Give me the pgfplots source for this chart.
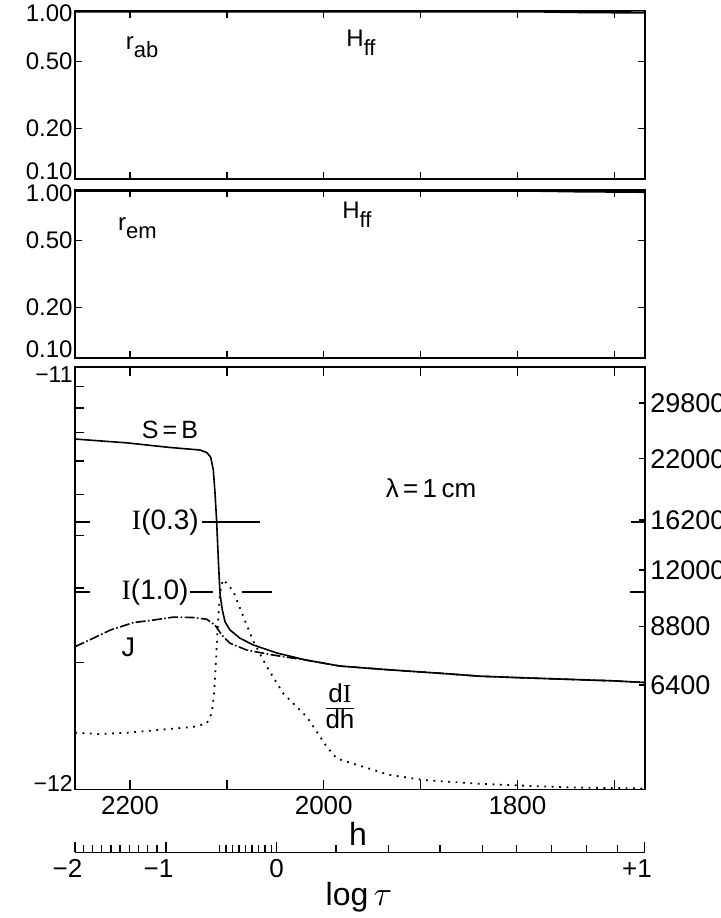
\documentclass[border=0pt]{standalone}
\usepackage{pgfplots}
\pgfplotsset{compat=1.18}
\usepackage{fontspec}
\setmainfont{Liberation Sans}
\newfontfamily\serifI{Liberation Serif}
\newcommand{\fs}[1]{\fontsize{#1}{#1}\selectfont}
\newcommand{\up}[2]{\raisebox{#1}[\height][\depth]{#2}}
\begin{document}
\begin{tikzpicture}[x=1pt,y=1pt]
\useasboundingbox (0,0) rectangle (360,459);
\pgfplotsset{
  every axis/.append style={
    scale only axis, width=285pt, anchor=south west,
    xmin=1668.3, xmax=2256.8, x dir=reverse,
    axis line style={-, line width=0.8pt},
    every tick/.style={line width=0.7pt, black},
    tick align=inside,
    major tick length=3.5pt,
    tick label style={font=\fs{12.5}},
  },
}
% ---------------- top panel ----------------
\begin{axis}[at={(37.5pt,369.5pt)}, height=84.15pt,
  ymode=log, ymin=0.1, ymax=1,
  xtick={1700,1800,1900,2000,2100,2200}, xticklabels={,,,,,},
  ytick={0.1,0.2,0.5,1}, yticklabels={\up{4pt}{0.10},0.20,0.50,\up{-1.5pt}{1.00}},
  yminorticks=false,
  yticklabel style={font=\fs{12}, inner sep=1pt},
]
\addplot[line width=1.2pt] coordinates {(2256.8,0.99)(1780,0.99)(1740,0.982)(1668.3,0.975)};
\node at (axis cs:2187.6,0.608) {\fs{12}r\raisebox{-0.6ex}{\fs{11}ab}};
\node at (axis cs:1961.5,0.642) {\fs{12}H\raisebox{-0.7ex}{\fs{11}ff}};
\end{axis}
% ---------------- middle panel ----------------
\begin{axis}[at={(37.5pt,280.15pt)}, height=83.85pt,
  ymode=log, ymin=0.1, ymax=1,
  xtick={1700,1800,1900,2000,2100,2200}, xticklabels={,,,,,},
  ytick={0.1,0.2,0.5,1}, yticklabels={\up{4pt}{0.10},0.20,0.50,\up{-1.5pt}{1.00}},
  yminorticks=false,
  yticklabel style={font=\fs{12}, inner sep=1pt},
]
\addplot[line width=1.2pt] coordinates {(2256.8,0.99)(1780,0.99)(1740,0.982)(1668.3,0.975)};
\node at (axis cs:2192.3,0.593) {\fs{12}r\raisebox{-0.6ex}{\fs{11}em}};
\node at (axis cs:1965.7,0.71) {\fs{12}H\raisebox{-0.7ex}{\fs{11}ff}};
\end{axis}
% ---------------- bottom panel ----------------
\begin{axis}[at={(37.5pt,64.35pt)}, height=211pt,
  ymin=-12, ymax=-11,
  xtick={1700,1800,1900,2000,2100,2200}, xticklabels={,1800,,2000,,2200},
  xticklabel style={font=\fs{13}},
  ytick={-12,-11}, yticklabels={\up{3pt}{−12},\up{-3.5pt}{−11}},
  yticklabel style={font=\fs{11.5}, inner sep=1pt},
  ytick pos=left,
  extra y ticks={-11.69897,-11.52288,-11.39794,-11.30103,-11.22185,-11.15490,-11.09691,-11.04576},
  extra y tick labels={},
  major tick length=4.5pt,
]
% S = B
\addplot[line width=0.8pt] coordinates {
(2256.8,-11.170)(2203.4,-11.179)(2158.7,-11.190)(2127.7,-11.196)(2120.8,-11.202)
(2116.7,-11.213)(2114.0,-11.243)(2112.2,-11.299)(2110.5,-11.367)(2108.8,-11.457)
(2107.1,-11.536)(2104.7,-11.575)(2101.9,-11.603)(2096.8,-11.6225)(2086.4,-11.642)
(2072.7,-11.658)(2048.5,-11.677)(2017.6,-11.694)(1983.2,-11.708)(1931.6,-11.717)
(1880.0,-11.725)(1838.7,-11.732)(1804.3,-11.735)(1752.7,-11.739)(1701.0,-11.743)
(1668.3,-11.747)};
% J
\addplot[line width=0.8pt, dash pattern=on 5pt off 1.2pt on 0.8pt off 1.2pt] coordinates {
(2256.8,-11.662)(2237.9,-11.642)(2220.6,-11.623)(2196.6,-11.605)(2175.9,-11.599)
(2155.3,-11.592)(2134.6,-11.593)(2120.8,-11.597)(2112.2,-11.611)(2105.3,-11.634)
(2096.7,-11.654)(2079.5,-11.670)(2052.1,-11.682)(2017.6,-11.694)(1983.2,-11.708)
(1931.6,-11.717)(1880.0,-11.725)(1838.7,-11.732)(1804.3,-11.735)(1752.7,-11.739)
(1701.0,-11.743)(1668.3,-11.747)};
% dI/dh
\addplot[line width=0.9pt, dash pattern=on 0.9pt off 2.8pt] coordinates {
(2256.8,-11.885)(2256.0,-11.866)(2231.0,-11.869)(2203.4,-11.866)(2169.0,-11.859)
(2134.6,-11.852)(2120.8,-11.844)(2115.6,-11.820)(2113.2,-11.773)(2111.2,-11.694)
(2109.5,-11.615)(2107.1,-11.535)(2104.1,-11.503)(2100.2,-11.512)(2093.4,-11.530)
(2083.0,-11.591)(2072.7,-11.649)(2058.9,-11.709)(2041.7,-11.773)(2017.6,-11.828)
(1996.9,-11.899)(1986.6,-11.927)(1966.0,-11.942)(1931.6,-11.966)(1897.2,-11.978)
(1838.7,-11.987)(1787.0,-11.992)(1735.4,-11.996)(1670.4,-11.998)};
% I(0.3) and I(1.0) markers
\addplot[line width=0.8pt] coordinates {(2256.8,-11.367)(2241.3,-11.367)};
\addplot[line width=0.8pt] coordinates {(2126.0,-11.367)(2065.8,-11.367)};
\addplot[line width=0.8pt] coordinates {(1682.5,-11.367)(1668.3,-11.367)};
\addplot[line width=0.8pt] coordinates {(2256.8,-11.533)(2241.3,-11.533)};
\addplot[line width=0.8pt] coordinates {(2138.1,-11.533)(2114.0,-11.533)};
\addplot[line width=0.8pt] coordinates {(2084.7,-11.533)(2053.8,-11.533)};
\addplot[line width=0.8pt] coordinates {(1684.0,-11.533)(1668.3,-11.533)};
% labels
\node at (axis cs:2158.7,-11.149) {\fs{12.5}S\,=\,B};
\node at (axis cs:1889.2,-11.287) {\fs{13}λ\,=\,1\,cm};
\node[anchor=east, inner sep=0.5pt] at (axis cs:2127.5,-11.367) {\fs{14}{\serifI I}(0.3)};
\node[anchor=east, inner sep=0.5pt] at (axis cs:2138.1,-11.533) {\fs{14}{\serifI I}(1.0)};
\node at (axis cs:2201.7,-11.664) {\fs{13.5}J};
\node at (axis cs:1983.2,-11.812) {\fs{13}\begin{tabular}{@{}c@{}}d{\serifI I}\\[-1pt]\hline\rule{0pt}{10pt}dh\end{tabular}};
\end{axis}
% right temperature scale
\begin{axis}[at={(37.5pt,64.35pt)}, height=211pt,
  ymin=-12, ymax=-11,
  axis x line=none, axis y line*=right,
  axis line style={-, line width=0.8pt},
  ytick={-11.75291,-11.61461,-11.47991,-11.362,-11.21667,-11.08487},
  yticklabels={6400,8800,12000,16200,22000,29800},
  major tick length=3pt,
  yticklabel style={font=\fs{13.5}, inner sep=1.5pt, xshift=1pt},
]
\end{axis}
% log tau axis
\begin{axis}[at={(37.5pt,32.75pt)}, height=10pt,
  ymin=0, ymax=1,
  axis y line=none, axis x line*=bottom,
  axis line style={-, line width=0.7pt},
  xtick={2256.8,2162.8,2048.7,1668.8},
  xticklabels={\llap{−}2,\llap{−}1,0,\llap{+}1},
  minor xtick={2248.3,2238.8,2229.3,2219.8,2210.3,2200.8,2191.3,2181.8,2172.3,
    2107.6,2100.9,2094.2,2087.5,2080.8,2074.0,2067.3,2060.6,2053.9,
    1987.3,1933.3,1880.0,1835.9,1800.8,1764.6,1728.5,1696.9},
  major tick length=5pt, minor tick length=3.5pt,
  xticklabel style={font=\fs{13}},
]
\end{axis}
\node at (179,42) {\fs{16}h};
\node[anchor=base] at (179.5,6) {\fs{16}log\,$\tau$};
\end{tikzpicture}
\end{document}
